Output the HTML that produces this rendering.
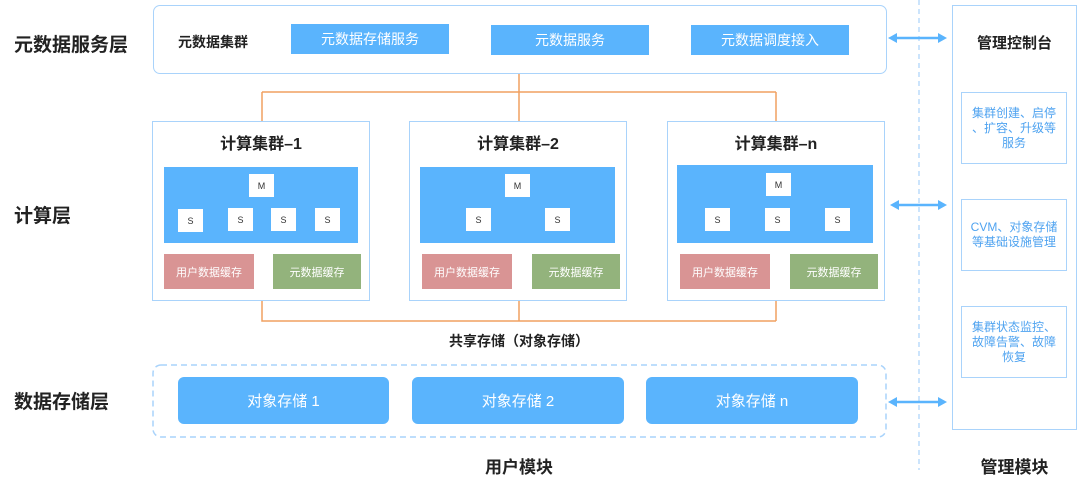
<!DOCTYPE html>
<html><head><meta charset="utf-8"><style>
*{margin:0;padding:0;box-sizing:border-box}
body{width:1080px;height:489px;background:#fff;position:relative;overflow:hidden;font-family:"Liberation Sans","Noto Sans CJK SC",sans-serif;color:#222}
.a{position:absolute}
.c{display:flex;align-items:center;justify-content:center;text-align:center}
.lb{font-size:19px;font-weight:bold}
.bl{background:#5ab4fd;color:#fff}
.bx{border:1.5px solid #a9d3fb;background:#fff}
.sq{background:#fff;width:25px;height:23px;font-size:9px;color:#333}
.red{background:#d99494;color:#fff;font-size:11px}
.grn{background:#93b37c;color:#fff;font-size:11px}
.sub{border:1.5px solid #a9d3fb;color:#4fa3f0;font-size:12px;line-height:15px;white-space:nowrap}
</style></head><body>
<div class="a lb" style="left:14px;top:30px">元数据服务层</div>
<div class="a lb" style="left:14px;top:201px">计算层</div>
<div class="a lb" style="left:14px;top:387px">数据存储层</div>

<div class="a bx" style="left:153px;top:5px;width:734px;height:69px;border-radius:7px"></div>
<div class="a" style="left:178px;top:32px;font-size:14px;font-weight:bold">元数据集群</div>
<div class="a bl c" style="left:291px;top:24px;width:158px;height:30px;font-size:14px">元数据存储服务</div>
<div class="a bl c" style="left:491px;top:25px;width:158px;height:30px;font-size:14px">元数据服务</div>
<div class="a bl c" style="left:691px;top:25px;width:158px;height:30px;font-size:14px">元数据调度接入</div>

<svg class="a" style="left:0;top:0" width="1080" height="489">
<g stroke="#f0a060" stroke-width="1.5" fill="none">
<path d="M519 74V92M262 92H776M262 92V121M519 92V121M776 92V121"/>
<path d="M262 300V321H776M519 300V321M776 300V321"/>
</g>
<line x1="919" y1="0" x2="919" y2="470" stroke="#a9d3fb" stroke-width="1.2" stroke-dasharray="5,4"/>
<rect x="153" y="365" width="733" height="72" rx="8" fill="none" stroke="#a9d3fb" stroke-width="1.5" stroke-dasharray="6,4"/>
<g stroke="#5ab4fd" stroke-width="2.5" fill="#5ab4fd">
<line x1="895" y1="38" x2="940" y2="38"/><path d="M888 38l9-5v10zM947 38l-9-5v10z" stroke="none"/>
<line x1="897" y1="205" x2="940" y2="205"/><path d="M890 205l9-5v10zM947 205l-9-5v10z" stroke="none"/>
<line x1="895" y1="402" x2="940" y2="402"/><path d="M888 402l9-5v10zM947 402l-9-5v10z" stroke="none"/>
</g>
</svg>

<div class="a bx" style="left:152px;top:121px;width:218px;height:180px"></div>
<div class="a" style="left:152px;width:218px;top:130px;text-align:center;font-size:16px;font-weight:bold">计算集群–1</div>
<div class="a bl" style="left:164px;top:167px;width:194px;height:76px"></div>
<div class="a sq c" style="left:249px;top:174px">M</div>
<div class="a sq c" style="left:178px;top:209px">S</div>
<div class="a sq c" style="left:228px;top:208px">S</div>
<div class="a sq c" style="left:271px;top:208px">S</div>
<div class="a sq c" style="left:315px;top:208px">S</div>
<div class="a red c" style="left:164px;top:254px;width:90px;height:35px">用户数据缓存</div>
<div class="a grn c" style="left:273px;top:254px;width:88px;height:35px">元数据缓存</div>

<div class="a bx" style="left:409px;top:121px;width:218px;height:180px"></div>
<div class="a" style="left:409px;width:218px;top:130px;text-align:center;font-size:16px;font-weight:bold">计算集群–2</div>
<div class="a bl" style="left:420px;top:167px;width:195px;height:76px"></div>
<div class="a sq c" style="left:505px;top:174px">M</div>
<div class="a sq c" style="left:466px;top:208px">S</div>
<div class="a sq c" style="left:545px;top:208px">S</div>
<div class="a red c" style="left:422px;top:254px;width:90px;height:35px">用户数据缓存</div>
<div class="a grn c" style="left:532px;top:254px;width:88px;height:35px">元数据缓存</div>

<div class="a bx" style="left:667px;top:121px;width:218px;height:180px"></div>
<div class="a" style="left:667px;width:218px;top:130px;text-align:center;font-size:16px;font-weight:bold">计算集群–n</div>
<div class="a bl" style="left:677px;top:165px;width:196px;height:78px"></div>
<div class="a sq c" style="left:766px;top:173px">M</div>
<div class="a sq c" style="left:705px;top:208px">S</div>
<div class="a sq c" style="left:765px;top:208px">S</div>
<div class="a sq c" style="left:825px;top:208px">S</div>
<div class="a red c" style="left:680px;top:254px;width:90px;height:35px">用户数据缓存</div>
<div class="a grn c" style="left:790px;top:254px;width:88px;height:35px">元数据缓存</div>

<div class="a" style="left:419px;width:200px;top:331px;text-align:center;font-size:14px;font-weight:bold">共享存储（对象存储）</div>

<div class="a bl c" style="left:178px;top:377px;width:211px;height:47px;border-radius:6px;font-size:15px">对象存储 1</div>
<div class="a bl c" style="left:412px;top:377px;width:212px;height:47px;border-radius:6px;font-size:15px">对象存储 2</div>
<div class="a bl c" style="left:646px;top:377px;width:212px;height:47px;border-radius:6px;font-size:15px">对象存储 n</div>

<div class="a" style="left:419px;width:200px;top:453px;text-align:center;font-size:17px;font-weight:bold">用户模块</div>

<div class="a bx" style="left:952px;top:5px;width:125px;height:425px"></div>
<div class="a" style="left:952px;width:125px;top:32px;text-align:center;font-size:15px;font-weight:bold">管理控制台</div>
<div class="a sub c" style="left:961px;top:92px;width:106px;height:72px">集群创建、启停<br>、扩容、升级等<br>服务</div>
<div class="a sub c" style="left:961px;top:199px;width:106px;height:72px">CVM、对象存储<br>等基础设施管理</div>
<div class="a sub c" style="left:961px;top:306px;width:106px;height:72px">集群状态监控、<br>故障告警、故障<br>恢复</div>
<div class="a" style="left:952px;width:125px;top:453px;text-align:center;font-size:17px;font-weight:bold">管理模块</div>
</body></html>
